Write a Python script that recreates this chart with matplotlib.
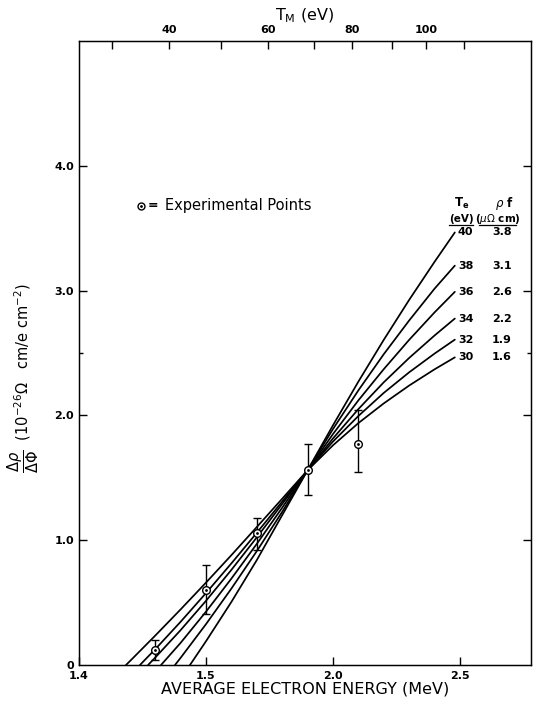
import numpy as np
from matplotlib import pyplot as plt

'''Data read off the figure'''
# theory curves, one per Te (eV), rho_f (micro-ohm cm)
te_vals = [30, 32, 34, 36, 38, 40]
rho_vals = ['1.6', '1.9', '2.2', '2.6', '3.1', '3.8']

e_30 = [1.185, 1.2, 1.3, 1.4, 1.5, 1.6, 1.7, 1.8, 1.9, 2.0, 2.1, 2.2, 2.3, 2.4, 2.48]
d_30 = [0.0, 0.03, 0.235, 0.445, 0.66, 0.88, 1.105, 1.332, 1.56, 1.76, 1.938, 2.096, 2.239, 2.369, 2.465]
e_32 = [1.24, 1.3, 1.4, 1.5, 1.6, 1.7, 1.8, 1.9, 2.0, 2.1, 2.2, 2.3, 2.4, 2.48]
d_32 = [0.0, 0.126, 0.346, 0.576, 0.814, 1.059, 1.309, 1.56, 1.79, 1.995, 2.18, 2.345, 2.495, 2.607]
e_34 = [1.272, 1.3, 1.4, 1.5, 1.6, 1.7, 1.8, 1.9, 2.0, 2.1, 2.2, 2.3, 2.4, 2.48]
d_34 = [0.0, 0.059, 0.279, 0.514, 0.762, 1.022, 1.29, 1.56, 1.815, 2.05, 2.265, 2.46, 2.64, 2.776]
e_36 = [1.323, 1.4, 1.5, 1.6, 1.7, 1.8, 1.9, 2.0, 2.1, 2.2, 2.3, 2.4, 2.48]
d_36 = [0.0, 0.177, 0.427, 0.692, 0.97, 1.26, 1.56, 1.85, 2.12, 2.37, 2.605, 2.825, 2.99]
e_38 = [1.378, 1.4, 1.5, 1.6, 1.7, 1.8, 1.9, 2.0, 2.1, 2.2, 2.3, 2.4, 2.48]
d_38 = [0.0, 0.057, 0.327, 0.612, 0.912, 1.227, 1.56, 1.89, 2.2, 2.49, 2.76, 3.015, 3.2]
e_40 = [1.437, 1.5, 1.6, 1.7, 1.8, 1.9, 2.0, 2.1, 2.2, 2.3, 2.4, 2.48]
d_40 = [0.0, 0.19, 0.505, 0.84, 1.2, 1.56, 1.92, 2.27, 2.605, 2.925, 3.23, 3.466]

curves_e = [e_30, e_32, e_34, e_36, e_38, e_40]
curves_d = [d_30, d_32, d_34, d_36, d_38, d_40]

# experimental points
exp_e = [1.30, 1.50, 1.70, 1.90, 2.10]
exp_d = [0.12, 0.60, 1.06, 1.56, 1.77]
err_lo = [0.08, 0.19, 0.14, 0.20, 0.22]
err_hi = [0.08, 0.20, 0.12, 0.21, 0.27]

# top axis: T_M (eV) against energy (MeV)
tm_vals = [30, 40, 50, 60, 70, 80, 90, 100, 110]
tm_pos = [1.130, 1.354, 1.559, 1.744, 1.925, 2.075, 2.232, 2.366, 2.516]
tm_labelled = [40, 60, 80, 100]

x_ticks = [1.0, 1.5, 2.0, 2.5]
x_ticklabels = ['1.4', '1.5', '2.0', '2.5']
y_ticks = [0, 1, 2, 3, 4]
y_ticklabels = ['0', '1.0', '2.0', '3.0', '4.0']

'''Figure'''
plt.rcParams['font.family'] = 'DejaVu Sans'
fig = plt.figure(figsize=(5.34, 7.06), dpi=100)
ax = fig.add_axes([79/534, 41/706, 452/534, 624/706])

for e, d in zip(curves_e, curves_d):
    ax.plot(e, d, color='black', lw=1.25, solid_capstyle='round', solid_joinstyle='round')

ax.errorbar(exp_e, exp_d, yerr=[err_lo, err_hi], fmt='none', ecolor='black',
            elinewidth=1.0, capsize=3, capthick=1.0)
ax.plot(exp_e, exp_d, 'o', ms=5.5, mfc='white', mec='black', mew=1.0)
ax.plot(exp_e, exp_d, '.', ms=2, color='black')

# curve labels at the right-hand ends
for i in range(len(te_vals)):
    y_end = curves_d[i][-1]
    ax.text(2.492, y_end, str(te_vals[i]), fontsize=8, fontweight='bold', ha='left', va='center')
    ax.text(2.665, y_end, rho_vals[i], fontsize=8, fontweight='bold', ha='center', va='center')

ax.text(2.505, 3.70, r'T$_\mathregular{e}$', fontsize=8.5, fontweight='bold', ha='center', va='center')
ax.text(2.677, 3.70, r'$\rho$ f', fontsize=8.5, fontweight='bold', ha='center', va='center')
ax.text(2.505, 3.575, '(eV)', fontsize=7.5, fontweight='bold', ha='center', va='center')
ax.text(2.648, 3.575, r'($\mu\Omega$ cm)', fontsize=7.5, fontweight='bold', ha='center', va='center')
ax.plot([2.458, 2.552], [3.525, 3.525], color='black', lw=0.9)
ax.plot([2.575, 2.722], [3.525, 3.525], color='black', lw=0.9)

# legend for the points
ax.plot([1.244], [3.68], 'o', ms=5, mfc='white', mec='black', mew=1.0)
ax.plot([1.244], [3.68], '.', ms=2, color='black')
ax.text(1.293, 3.68, '=', fontsize=9, fontweight='bold', ha='center', va='center')
ax.text(1.338, 3.68, 'Experimental Points', fontsize=10.5, ha='left', va='center')

ax.set_xlim(1.0, 2.78)
ax.set_ylim(0, 5.0)
ax.set_xticks(x_ticks)
ax.set_xticklabels(x_ticklabels, fontsize=8, fontweight='bold')
ax.set_yticks(y_ticks)
ax.set_yticklabels(y_ticklabels, fontsize=8, fontweight='bold')
ax.set_yticks([2.5], minor=True)
ax.tick_params(axis='both', which='both', direction='in', length=6, width=1,
               top=False, right=True)
ax.tick_params(axis='y', which='minor', length=3)
ax.tick_params(axis='x', pad=4)
ax.xaxis.get_major_ticks()[0].tick1line.set_visible(False)
ax.yaxis.get_major_ticks()[0].tick1line.set_visible(False)
ax.yaxis.get_major_ticks()[0].tick2line.set_visible(False)
for s in ax.spines.values():
    s.set_linewidth(1.0)

ax.set_xlabel('AVERAGE ELECTRON ENERGY (MeV)', fontsize=11.5, labelpad=1)
ax.set_ylabel(r'$\dfrac{\Delta\rho}{\Delta\Phi}$  (10$^{-26}\Omega$   cm/e cm$^{-2}$)',
              fontsize=10.5)
ax.yaxis.set_label_coords(-0.085, 0.46)

# top axis in T_M
top = ax.twiny()
top.set_xlim(ax.get_xlim())
top.set_xticks(tm_pos)
top.set_xticklabels([str(t) if t in tm_labelled else '' for t in tm_vals],
                    fontsize=8, fontweight='bold')
top.tick_params(axis='x', direction='in', length=6, width=1, pad=4)
top.set_xlabel(r'T$_\mathregular{M}$ (eV)', fontsize=11.5, labelpad=4)

fig.savefig('out.png', dpi=100)
